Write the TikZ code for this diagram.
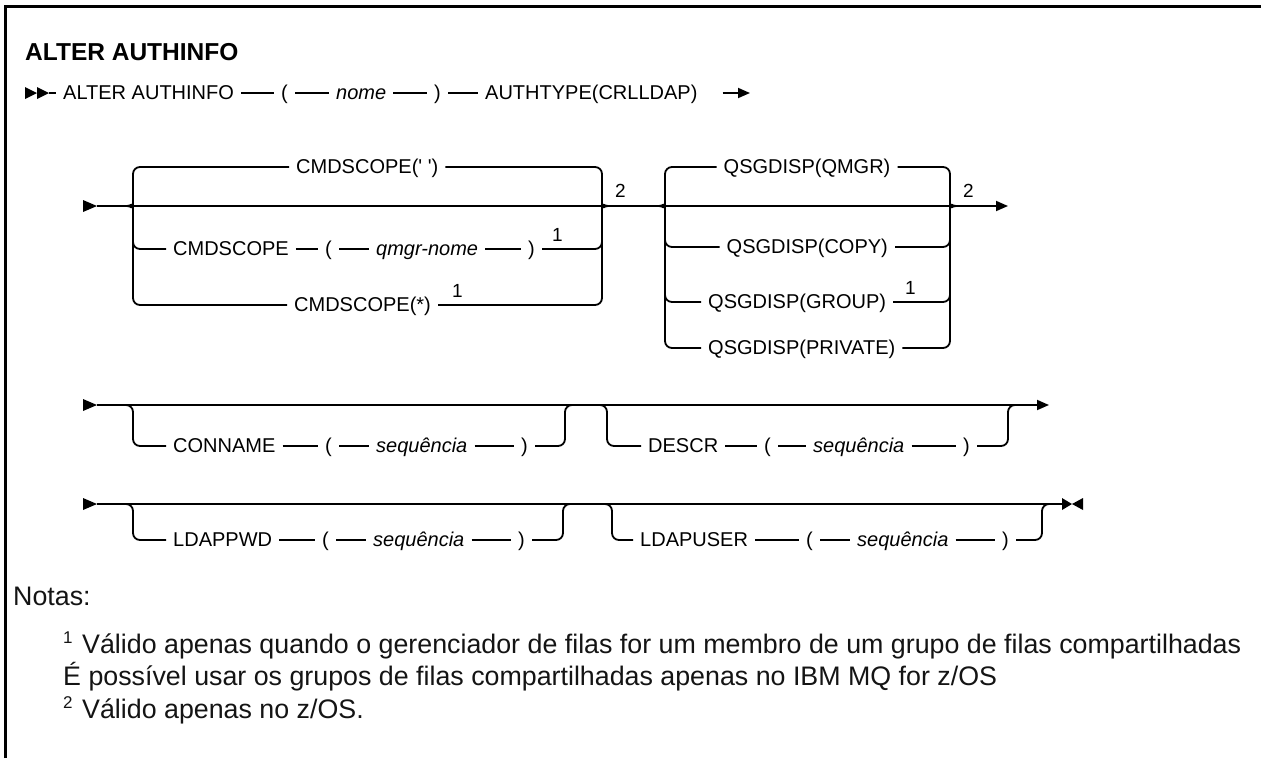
\documentclass[tikz,border=0pt]{standalone}
\usepackage{fontspec}
\setmainfont{Liberation Sans}
\usetikzlibrary{arrows.meta}
\begin{document}
\begin{tikzpicture}[x=1pt,y=-1pt]
\tikzset{
  ln/.style={line width=1.8pt, black},
  lbl/.style={font=\fontsize{20}{24}\selectfont, inner xsep=0pt, inner ysep=0pt, text height=16pt, text depth=4pt, anchor=west},
  it/.style={lbl, font=\fontsize{20}{24}\selectfont\itshape},
  seg/.style={ln, shorten <=7pt, shorten >=7pt},
  supn/.style={font=\fontsize{19}{22}\selectfont, inner sep=0pt, anchor=base west},
  tri/.style={fill=black, draw=none},
  brc/.style={ln, rounded corners=7pt},
  note/.style={font=\fontsize{26.8}{30}\selectfont, inner sep=0pt, anchor=base west, text=black!92},
  notesup/.style={font=\fontsize{17}{20}\selectfont, inner sep=0pt, anchor=base west, text=black!92},
  endtip/.style={-{Triangle[length=12pt,width=10pt]}},
}
\useasboundingbox (0,0) rectangle (1261,758);
% frame
\draw[line width=2.2pt] (5.5,758) -- (5.5,6.5) -- (1261,6.5);
% title
\node[inner sep=0pt, anchor=base west, font=\bfseries\fontsize{24.5}{28}\selectfont] (title) at (25,60) {ALTER AUTHINFO};

% ---------- row 1 ----------
\fill[tri] (25,87) -- (37,93) -- (25,99) -- cycle;
\fill[tri] (37,87) -- (49,93) -- (37,99) -- cycle;
\coordinate (r1s) at (49,93);
\node[lbl] (aa) at (63,93) {ALTER AUTHINFO};
\node[lbl] (p1) at (281,93) {(};
\node[it]  (nm) at (336,93) {nome};
\node[lbl] (p2) at (434,93) {)};
\node[lbl] (at) at (485,93) {AUTHTYPE(CRLLDAP)};
\coordinate (r1e) at (750,93);
\draw[ln, shorten >=7pt] (r1s) -- (aa);
\draw[seg] (aa) -- (p1);
\draw[seg] (p1) -- (nm);
\draw[seg] (nm) -- (p2);
\draw[seg] (p2) -- (at);
\draw[ln, shorten <=25pt, endtip] (at) -- (r1e);

% ---------- row 2 : CMDSCOPE / QSGDISP ----------
\fill[tri] (83,200) -- (97,206) -- (83,212) -- cycle;
\coordinate (r2s) at (97,206);
\coordinate (r2e) at (1008,206);
\draw[ln, endtip] (r2s) -- (r2e);

\node[lbl] (ct) at (296,167) {CMDSCOPE(\textquotesingle\ \textquotesingle)};
\node[lbl] (cq) at (173,249) {CMDSCOPE};
\node[lbl] (cq1) at (325,249) {(};
\node[it]  (cq2) at (376,249) {qmgr-nome};
\node[lbl] (cq3) at (528,249) {)};
\node[supn] (cq4) at (552,241) {1};
\node[lbl] (cs) at (294,305) {CMDSCOPE(*)};
\node[supn] (cs1) at (452,297) {1};
\draw[seg] (cq) -- (cq1);
\draw[seg] (cq1) -- (cq2);
\draw[seg] (cq2) -- (cq3);
% left brace 1
\draw[brc] ([xshift=-7pt]ct.west) -- (133,167) -- (133,199) to[out=-90,in=0] (127,206);
\draw[brc] (127,206) to[out=0,in=90] (133,213) -- (133,305) -- ([xshift=-7pt]cs.west);
\draw[brc] (133,236) -- (133,249) -- ([xshift=-7pt]cq.west);
% right brace 1
\draw[brc] ([xshift=7pt]ct.east) -- (602,167) -- (602,199) to[out=-90,in=180] (608,206);
\draw[brc] (608,206) to[out=180,in=90] (602,213) -- (602,305) -- ([xshift=7pt]cs.east);
\draw[brc] (602,236) -- (602,249) -- ([xshift=7pt]cq3.east);
\node[supn] (two1) at (615,197) {2};

\node[lbl] (qm) at (723.5,167) {QSGDISP(QMGR)};
\node[lbl] (qc) at (726.5,247) {QSGDISP(COPY)};
\node[lbl] (qg) at (708,302) {QSGDISP(GROUP)};
\node[supn] (qg1) at (905,294) {1};
\node[lbl] (qp) at (708,348) {QSGDISP(PRIVATE)};
% left brace 2
\draw[brc] ([xshift=-7pt]qm.west) -- (665,167) -- (665,199) to[out=-90,in=0] (659,206);
\draw[brc] (659,206) to[out=0,in=90] (665,213) -- (665,348) -- ([xshift=-7pt]qp.west);
\draw[brc] (665,234) -- (665,247) -- ([xshift=-7pt]qc.west);
\draw[brc] (665,289) -- (665,302) -- ([xshift=-7pt]qg.west);
% right brace 2
\draw[brc] ([xshift=7pt]qm.east) -- (950,167) -- (950,199) to[out=-90,in=180] (956,206);
\draw[brc] (956,206) to[out=180,in=90] (950,213) -- (950,348) -- ([xshift=7pt]qp.east);
\draw[brc] (950,234) -- (950,247) -- ([xshift=7pt]qc.east);
\draw[brc] (950,289) -- (950,302) -- ([xshift=7pt]qg.east);
\node[supn] (two2) at (963,197) {2};

% ---------- row 3 ----------
\fill[tri] (83,399) -- (97,405) -- (83,411) -- cycle;
\coordinate (r3s) at (97,405);
\coordinate (r3e) at (1049,405);
\draw[ln, endtip] (r3s) -- (r3e);
\node[lbl] (cn) at (173,446) {CONNAME};
\node[lbl] (cn1) at (325,446) {(};
\node[it]  (cn2) at (376,446) {sequência};
\node[lbl] (cn3) at (521,446) {)};
\draw[seg] (cn) -- (cn1);
\draw[seg] (cn1) -- (cn2);
\draw[seg] (cn2) -- (cn3);
\draw[brc] (120,405) -- (133,405) -- (133,446) -- ([xshift=-7pt]cn.west);
\draw[brc] ([xshift=7pt]cn3.east) -- (565,446) -- (565,405) -- (578,405);
\node[lbl] (ds) at (648,446) {DESCR};
\node[lbl] (ds1) at (764,446) {(};
\node[it]  (ds2) at (813,446) {sequência};
\node[lbl] (ds3) at (963,446) {)};
\draw[seg] (ds) -- (ds1);
\draw[seg] (ds1) -- (ds2);
\draw[seg] (ds2) -- (ds3);
\draw[brc] (594,405) -- (607,405) -- (607,446) -- ([xshift=-7pt]ds.west);
\draw[brc] ([xshift=7pt]ds3.east) -- (1008,446) -- (1008,405) -- (1021,405);

% ---------- row 4 ----------
\fill[tri] (83,498) -- (97,504) -- (83,510) -- cycle;
\coordinate (r4s) at (97,504);
\coordinate (r4e) at (1062,504);
\draw[ln] (r4s) -- (r4e);
\fill[tri] (1062,498) -- (1072,504) -- (1062,510) -- cycle;
\fill[tri] (1083,498) -- (1072,504) -- (1083,510) -- cycle;
\node[lbl] (lp) at (173,540) {LDAPPWD};
\node[lbl] (lp1) at (322,540) {(};
\node[it]  (lp2) at (373,540) {sequência};
\node[lbl] (lp3) at (518,540) {)};
\draw[seg] (lp) -- (lp1);
\draw[seg] (lp1) -- (lp2);
\draw[seg] (lp2) -- (lp3);
\draw[brc] (120,504) -- (133,504) -- (133,540) -- ([xshift=-7pt]lp.west);
\draw[brc] ([xshift=7pt]lp3.east) -- (563,540) -- (563,504) -- (576,504);
\node[lbl] (lu) at (640,540) {LDAPUSER};
\node[lbl] (lu1) at (806,540) {(};
\node[it]  (lu2) at (857,540) {sequência};
\node[lbl] (lu3) at (1002,540) {)};
\draw[seg] (lu) -- (lu1);
\draw[seg] (lu1) -- (lu2);
\draw[seg] (lu2) -- (lu3);
\draw[brc] (599,504) -- (612,504) -- (612,540) -- ([xshift=-7pt]lu.west);
\draw[brc] ([xshift=7pt]lu3.east) -- (1042,540) -- (1042,504) -- (1055,504);

% ---------- notes ----------
\node[note] (notas) at (13,605) {Notas:};
\node[notesup] (ns1) at (63,643) {1};
\node[note] (nt1) at (82,653) {Válido apenas quando o gerenciador de filas for um membro de um grupo de filas compartilhadas};
\node[note] (nt2) at (63,685) {É possível usar os grupos de filas compartilhadas apenas no IBM MQ for z/OS};
\node[notesup] (ns2) at (63,708) {2};
\node[note] (nt3) at (82,718) {Válido apenas no z/OS.};
\end{tikzpicture}
\end{document}
